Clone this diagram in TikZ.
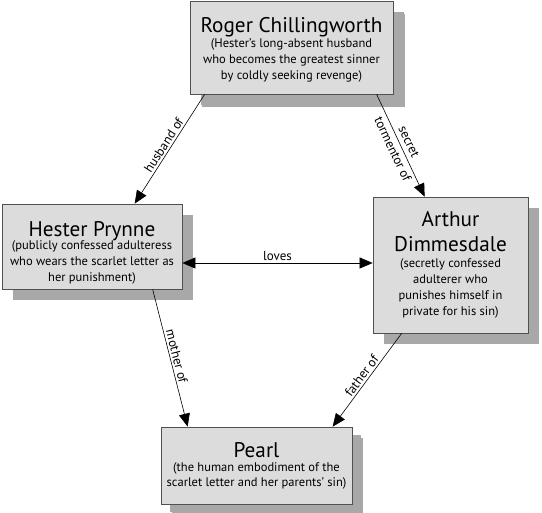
\documentclass[tikz,border=0pt]{standalone}
\usepackage{fontspec}
\setmainfont{PT Sans}
\usetikzlibrary{arrows.meta,shadows,calc}
\definecolor{boxfill}{HTML}{DCDCDD}
\definecolor{shadowgray}{HTML}{A8A8A8}
\definecolor{boxline}{HTML}{505050}
\newcommand{\ttlfont}{\fontsize{21.2}{23}\selectfont}
\begin{document}
\begin{tikzpicture}[x=1pt,y=-1pt,
  charbox/.style={draw=boxline, line width=0.7pt, fill=boxfill, inner sep=0pt,
    align=center, font=\fontsize{12.5}{16}\selectfont,
    drop shadow={shadow xshift=11pt, shadow yshift=-11pt, fill=shadowgray, opacity=1}},
  rel/.style={draw=black, line width=0.6pt, -{Triangle[length=13pt,width=11pt]}},
  lbl/.style={font=\fontsize{13}{14}\selectfont, sloped, inner sep=2pt}
]
\useasboundingbox (0,0) rectangle (542,513);

\node[charbox, minimum width=203pt, minimum height=93pt,
  font=\fontsize{12.5}{16}\selectfont,
  drop shadow={shadow xshift=12pt, shadow yshift=-13pt, fill=shadowgray, opacity=1}] (roger) at (291.5,47.5)
  {{\ttlfont\rule{0pt}{20pt}Roger Chillingworth}\\[-1pt]
   (Hester’s long-absent husband\\
   who becomes the greatest sinner\\
   by coldly seeking revenge)};

\node[charbox, minimum width=180pt, minimum height=85pt,
  font=\fontsize{12.5}{16}\selectfont] (hester) at (92,246.5)
  {{\ttlfont\rule{0pt}{28pt}Hester Prynne}\\[-3pt]
   (publicly confessed adulteress\\
   who wears the scarlet letter as\\
   her punishment)};

\node[charbox, minimum width=155pt, minimum height=136pt] (arthur) at (450.5,265)
  {{\ttlfont Arthur}\\[9pt]
   {\ttlfont Dimmesdale}\\
   (secretly confessed\\
   adulterer who\\
   punishes himself in\\
   private for his sin)};

\node[charbox, minimum width=191pt, minimum height=77pt,
  font=\fontsize{12.5}{14.5}\selectfont,
  drop shadow={shadow xshift=9pt, shadow yshift=-8pt, fill=shadowgray, opacity=1}] (pearl) at (256.5,465.5)
  {{\ttlfont Pearl}\\
   (the human embodiment of the\\
   scarlet letter and her parents’ sin)};

\coordinate (h1) at ($(roger.south west)+(15,0)$);
\coordinate (h2) at ($(hester.north west)+(133,0)$);
\draw[rel] (h1) -- node[lbl, above] (lh) {husband of} (h2);

\coordinate (s1) at ($(roger.south west)+(187,0)$);
\coordinate (s2) at ($(arthur.north west)+(52,0)$);
\draw[rel] (s1) -- node[lbl, align=center] (ls) {secret\\[4pt]tormentor of} (s2);

\coordinate (l1) at ($(hester.east)+(0,16.5)$);
\coordinate (l2) at (arthur.west |- l1);
\draw[rel, {Triangle[length=13pt,width=11pt]}-{Triangle[length=13pt,width=11pt]}] (l1) -- node[lbl, above] (ll) {loves} (l2);

\coordinate (m1) at ($(hester.south west)+(151,0)$);
\coordinate (m2) at ($(pearl.north west)+(27,0)$);
\draw[rel] (m1) -- node[lbl, above] (lm) {mother of} (m2);

\coordinate (f1) at ($(arthur.south west)+(29,0)$);
\coordinate (f2) at ($(pearl.north west)+(172,0)$);
\draw[rel] (f1) -- node[lbl, above] (lf) {father of} (f2);
\end{tikzpicture}
\end{document}
